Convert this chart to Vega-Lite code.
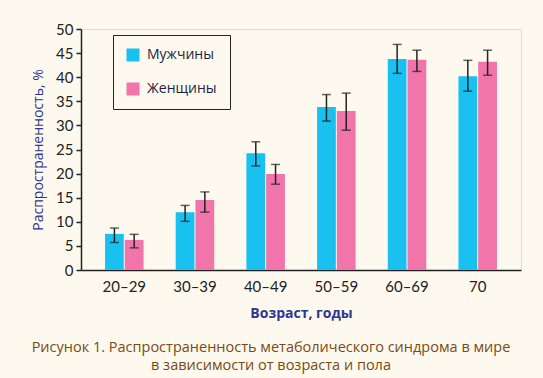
{
  "$schema": "https://vega.github.io/schema/vega-lite/v6.json",
  "autosize": "none",
  "width": 440,
  "height": 241,
  "padding": {"left": 81, "top": 29, "right": 22, "bottom": 108},
  "background": "#FDF9EF",
  "title": {
    "text": ["Рисунок 1.  Распространенность метаболического синдрома в мире", "в зависимости от возраста и пола"],
    "orient": "bottom",
    "anchor": "middle",
    "frame": "group",
    "dx": -30,
    "offset": 21,
    "font": "Open Sans",
    "fontSize": 14.5,
    "fontWeight": "normal",
    "color": "#7A4A12",
    "lineHeight": 18
  },
  "data": {
    "values": [
      {"age": "20–29", "sex": "Мужчины", "value": 7.5, "lo": 5.7, "hi": 8.7},
      {"age": "20–29", "sex": "Женщины", "value": 6.2, "lo": 4.6, "hi": 7.4},
      {"age": "30–39", "sex": "Мужчины", "value": 12.0, "lo": 10.1, "hi": 13.4},
      {"age": "30–39", "sex": "Женщины", "value": 14.5, "lo": 12.0, "hi": 16.2},
      {"age": "40–49", "sex": "Мужчины", "value": 24.2, "lo": 21.6, "hi": 26.6},
      {"age": "40–49", "sex": "Женщины", "value": 19.9, "lo": 17.8, "hi": 21.9},
      {"age": "50–59", "sex": "Мужчины", "value": 33.8, "lo": 30.9, "hi": 36.4},
      {"age": "50–59", "sex": "Женщины", "value": 33.0, "lo": 29.0, "hi": 36.7},
      {"age": "60–69", "sex": "Мужчины", "value": 43.8, "lo": 40.8, "hi": 46.8},
      {"age": "60–69", "sex": "Женщины", "value": 43.6, "lo": 41.2, "hi": 45.6},
      {"age": "70", "sex": "Мужчины", "value": 40.2, "lo": 37.1, "hi": 43.5},
      {"age": "70", "sex": "Женщины", "value": 43.2, "lo": 40.4, "hi": 45.6}
    ]
  },
  "config": {
    "axisY": {
      "grid": false,
      "tickCount": 10,
      "tickColor": "#222222",
      "tickSize": 5,
      "tickWidth": 1.5,
      "domainColor": "#222222",
      "domainWidth": 1.5,
      "labelFont": "Lato",
      "labelFontSize": 15,
      "labelColor": "#222222",
      "labelPadding": 3,
      "labelOverlap": false,
      "labelBound": false,
      "titleFont": "Open Sans",
      "titleFontSize": 14,
      "titleFontWeight": "normal",
      "titleColor": "#2E3592",
      "titlePadding": 10
    }
  },
  "encoding": {
    "x": {
      "field": "age", "type": "nominal", "sort": null,
      "scale": {"paddingInner": 0.455, "paddingOuter": 0.34},
      "axis": {
        "title": "Возраст, годы",
        "labelAngle": 0,
        "ticks": false,
        "labelPadding": 9,
        "labelFont": "Lato",
        "labelFontSize": 15,
        "labelColor": "#222222",
        "domainColor": "#222222",
        "domainWidth": 1.5,
        "titleFont": "Open Sans",
        "titleFontSize": 14,
        "titleFontWeight": "bold",
        "titleColor": "#2E3592",
        "titlePadding": 12
      }
    },
    "xOffset": {"field": "sex", "type": "nominal", "sort": ["Мужчины", "Женщины"], "scale": {"paddingInner": 0.05}}
  },
  "layer": [
    {
      "mark": {"type": "bar"},
      "encoding": {
        "y": {
          "field": "value", "type": "quantitative",
          "scale": {"domain": [0, 50], "nice": false},
          "axis": {"title": "Распространенность, %"}
        },
        "color": {
          "field": "sex", "type": "nominal",
          "sort": ["Мужчины", "Женщины"],
          "scale": {"domain": ["Мужчины", "Женщины"], "range": ["#19C1F1", "#F174AB"]},
          "legend": {
            "title": null,
            "orient": "none",
            "legendX": 32,
            "legendY": 6,
            "symbolType": "square",
            "symbolSize": 169,
            "symbolStrokeWidth": 0,
            "labelFont": "Open Sans",
            "labelFontSize": 14,
            "labelColor": "#1C1F45",
            "labelOffset": 7,
            "rowPadding": 20,
            "padding": 13,
            "strokeColor": "#222222",
            "fillColor": "#FDF9EF"
          }
        }
      }
    },
    {
      "mark": {"type": "rule", "color": "#222222", "strokeWidth": 1.5},
      "encoding": {
        "y": {"field": "lo", "type": "quantitative", "axis": {"title": "Распространенность, %"}},
        "y2": {"field": "hi"}
      }
    },
    {
      "mark": {"type": "tick", "color": "#222222", "thickness": 1.5, "size": 9},
      "encoding": {"y": {"field": "lo", "type": "quantitative", "axis": {"title": "Распространенность, %"}}}
    },
    {
      "mark": {"type": "tick", "color": "#222222", "thickness": 1.5, "size": 9},
      "encoding": {"y": {"field": "hi", "type": "quantitative", "axis": {"title": "Распространенность, %"}}}
    }
  ]
}
